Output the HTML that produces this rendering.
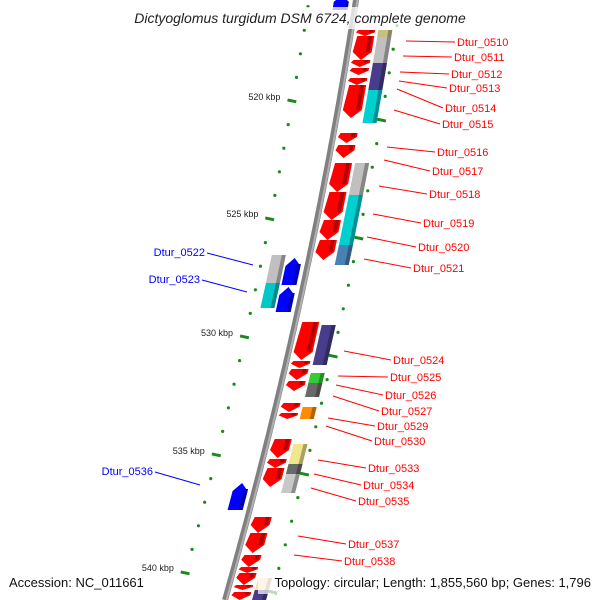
<!DOCTYPE html>
<html><head><meta charset="utf-8"><style>
html,body{margin:0;padding:0;background:#fff;width:600px;height:600px;overflow:hidden;}
svg{display:block;overflow:hidden;font-family:"Liberation Sans","DejaVu Sans",sans-serif;}
</style></head><body>
<svg id="chart" width="600" height="600" viewBox="0 0 600 600" xmlns="http://www.w3.org/2000/svg">
<g id="dots"></g>
<path id="backbone" fill="none" stroke="#808080" stroke-width="6"/>
<path id="backbone2" fill="none" stroke="#b0b0b0" stroke-width="2"/>
<g id="genes"></g>
<g id="labels"></g>
<rect x="112" y="7" width="376" height="22" fill="#fff" fill-opacity="0.75"/>
<text x="300" y="23" text-anchor="middle" font-size="14" font-style="italic" fill="#222">Dictyoglomus turgidum DSM 6724, complete genome</text>
<rect x="258" y="572" width="336" height="22" fill="#fff" fill-opacity="0.7"/>
<text x="9" y="587" font-size="13" fill="#111">Accession: NC_011661</text>
<text x="591" y="587" text-anchor="end" font-size="13" fill="#111">Topology: circular; Length: 1,855,560 bp; Genes: 1,796</text>
</svg>
<script>
function bx(y){return 356-0.1537*y-0.0001077*y*y;}
const geneStart=[30,36,60,68,78,85,133,145,163,192,220,240,322,361,369,381,403,413,439,459,468,517,533,555,567,573,585,592,
 30,37,63,72,81,90,163,195,245,325,373,383,407,444,464,474,578,590,
 255,283,258,287,483,-4];
const geneEnd=[36,60,67,75,85,118,143,158,192,220,240,260,360,368,380,391,412,419,458,468,487,533,553,567,573,585,590,600,
 37,63,72,81,90,123,195,245,265,365,383,397,419,464,474,493,596,600,
 283,308,285,312,510,10];
const geneLane=["r","r","r","r","r","r","r","r","r","r","r","r","r","r","r","r","r","r","r","r","r","r","r","r","r","r","r","r",
 "o","o","o","o","o","o","o","o","o","o","o","o","o","o","o","o","o","o",
 "lg","lg","lb","lb","lb","lb"];
const geneColor=["#ff0000","#ff0000","#ff0000","#ff0000","#ff0000","#ff0000","#ff0000","#ff0000","#ff0000","#ff0000","#ff0000","#ff0000","#ff0000","#ff0000","#ff0000","#ff0000","#ff0000","#ff0000","#ff0000","#ff0000","#ff0000","#ff0000","#ff0000","#ff0000","#ff0000","#ff0000","#ff0000","#ff0000",
 "#c8c080","#c0c0c0","#483d8b","#483d8b","#483d8b","#00d0d0","#c0c0c0","#00d0d0","#4682b4","#483d8b","#32cd32","#696969","#ff8c00","#f0e68c","#696969","#c8c8c8","#ffdead","#483d8b",
 "#c0c0c0","#00c8c8","#0000ff","#0000ff","#0000ff","#0000ff"];
const tickLabels=["520 kbp","525 kbp","530 kbp","535 kbp","540 kbp"];
const tickY=[101,218,337,455,572];
const labelNames=["Dtur_0510","Dtur_0511","Dtur_0512","Dtur_0513","Dtur_0514","Dtur_0515","Dtur_0516","Dtur_0517","Dtur_0518","Dtur_0519","Dtur_0520","Dtur_0521","Dtur_0524","Dtur_0525","Dtur_0526","Dtur_0527","Dtur_0529","Dtur_0530","Dtur_0533","Dtur_0534","Dtur_0535","Dtur_0537","Dtur_0538"];
const labelTX=[457,454,451,449,445,442,437,432,429,423,418,413,393,390,385,381,377,374,368,363,358,348,344];
const labelTY=[46,61,78,92,112,128,156,175,198,227,251,272,364,381,399,415,430,445,472,489,505,548,565];
const lineSX=[406,403,400,399,397,394,387,384,379,373,367,364,344,338,336,333,328,326,318,314,311,298,294];
const lineSY=[41,56,72,81,89,110,147,160,186,214,237,259,351,376,385,396,418,426,460,474,488,536,555];
const leftNames=["Dtur_0522","Dtur_0523","Dtur_0536"];
const leftTX=[205,200,153];
const leftTY=[256,283,475];
const leftSX=[253,247,200];
const leftSY=[265,292,485];

const NS="http://www.w3.org/2000/svg";
function mk(tag,attrs,parent){const e=document.createElementNS(NS,tag);for(const k in attrs)e.setAttribute(k,attrs[k]);parent.appendChild(e);return e;}
let d="";for(let y=-5;y<=600;y+=5){d+=(y===-5?"M":"L")+bx(y).toFixed(1)+","+y;}
document.getElementById("backbone").setAttribute("d",d);
let d2="";for(let y=-5;y<=600;y+=5){d2+=(y===-5?"M":"L")+(bx(y)+1.5).toFixed(1)+","+y;}
document.getElementById("backbone2").setAttribute("d",d2);
const dots=document.getElementById("dots");
for(let k=-4;k<=22;k++){
 const y=101+k*23.6;const isTick=(k%5===0);
 const lx=bx(y)-47;
 if(y<595){
 const e1=mk(isTick?"rect":"circle",isTick?{x:lx-5,y:y-1.5,width:9,height:3,fill:"#1a8a1a",transform:"rotate(12 "+lx+" "+y+")"}:{cx:lx,cy:y,r:1.6,fill:"#1a8a1a"},dots);
 
 
 }
 const ry=y+19, rx=bx(ry)+45;
 if(ry<595){
 const e2=mk(isTick?"rect":"circle",isTick?{x:rx-4,y:ry-1.5,width:9,height:3,fill:"#1a8a1a",transform:"rotate(12 "+rx+" "+ry+")"}:{cx:rx,cy:ry,r:1.6,fill:"#1a8a1a"},dots);
 
 
 }
}
tickLabels.forEach((t,i)=>{
 const x=bx(tickY[i])-47-12;
 const tx=mk("text",{x:x,y:tickY[i]-1,"text-anchor":"end","font-size":"9",fill:"#222"},dots);
 tx.textContent=t;
 
 
});
const lanes={r:[7,22],o:[27,41],lg:[-38,-24],lb:[-22,-7]};
function shade(c){const n=parseInt(c.slice(1),16);const f=v=>Math.round(v*0.7);return "rgb("+f(n>>16)+","+f((n>>8)&255)+","+f(n&255)+")";}
const G=document.getElementById("genes");
for(let i=0;i<geneStart.length;i++){
 const y1=Math.max(geneStart[i],-4),y2=Math.min(geneEnd[i],600),L=lanes[geneLane[i]],c=geneColor[i];
 const a=L[0],b=L[1];let pts;
 const len=y2-y1;
 if(geneLane[i]==="r"){
  const h=Math.min(8,len*0.6);const ym=y2-h;const mid=(a+b)/2;
  pts=[[bx(y1)+a,y1],[bx(y1)+b+2,y1],[bx(ym)+b+2,ym],[bx(y2)+mid,y2],[bx(ym)+a-2,ym]];
 } else if(geneLane[i]==="lb"){
  const h=Math.min(8,len*0.4);const ym=y1+h;const mid=(a+b)/2;
  pts=[[bx(y1)+mid,y1],[bx(ym)+b,ym],[bx(y2)+b,y2],[bx(y2)+a,y2],[bx(ym)+a,ym]];
 } else {
  pts=[[bx(y1)+a,y1],[bx(y1)+b,y1],[bx(y2)+b,y2],[bx(y2)+a,y2]];
 }
 const p=mk("polygon",{points:pts.map(q=>q[0].toFixed(1)+","+q[1].toFixed(1)).join(" "),fill:c},G);
 
 
 const w=4,sy1=y1+(geneLane[i]==="lb"?6:0),sy2=y2-(geneLane[i]==="r"?Math.min(8,len*0.6):0);
 const s=mk("polygon",{points:[[bx(sy1)+b-w,sy1],[bx(sy1)+b,sy1],[bx(sy2)+b,sy2],[bx(sy2)+b-w,sy2]].map(q=>q[0].toFixed(1)+","+q[1].toFixed(1)).join(" "),fill:shade(c)},G);
 
 
}
const LB=document.getElementById("labels");
labelNames.forEach((n,i)=>{
 const l=mk("line",{x1:lineSX[i],y1:lineSY[i],x2:labelTX[i]-2,y2:labelTY[i]-4,stroke:"#ff0000","stroke-width":"1"},LB);
 
 
 const t=mk("text",{x:labelTX[i],y:labelTY[i],"font-size":"11",fill:"#ff0000"},LB);
 t.textContent=n;
 
 
});
leftNames.forEach((n,i)=>{
 const l=mk("line",{x1:leftTX[i]+2,y1:leftTY[i]-3,x2:leftSX[i],y2:leftSY[i],stroke:"#0000ff","stroke-width":"1"},LB);
 
 
 const t=mk("text",{x:leftTX[i],y:leftTY[i],"font-size":"11",fill:"#0000ff","text-anchor":"end"},LB);
 t.textContent=n;
 
 
});
</script>
</body></html>
